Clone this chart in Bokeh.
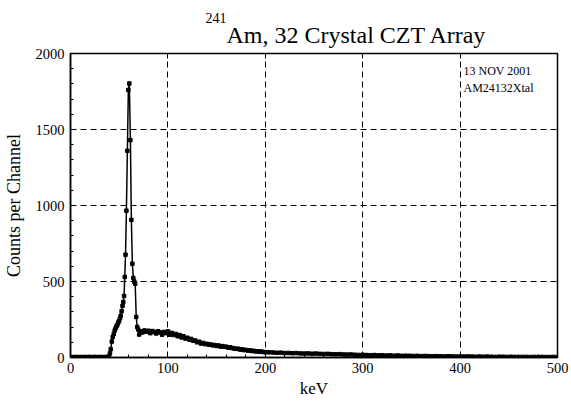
import numpy as np
from bokeh.plotting import figure
from bokeh.models import LinearAxis, Label, FixedTicker, Range1d, ColumnDataSource, Title
from bokeh.embed import file_html
from bokeh.resources import INLINE

FONT = "Liberation Serif"

# Below-threshold channels (2 keV steps)
low_kev = np.arange(0, 39, 2)
low_counts = [3, 2, 3, 3, 2, 3, 2, 3, 3, 2, 3, 2, 3, 3, 2, 3, 3, 2, 3, 4]

# 59.5 keV photopeak region (≈1 keV channels)
peak_kev = [39.6, 40.5, 41.3, 42.4, 43.4, 44.4, 45.4, 46.3, 47.2, 48.1,
            49.0, 49.9, 50.8, 51.6, 52.5, 53.4, 54.2, 55.0, 55.7, 56.5,
            57.4, 58.4, 59.4, 60.4, 61.5, 62.5, 63.5, 64.5, 65.5, 66.4,
            67.5, 68.5, 69.5, 70.5]
peak_counts = [6, 28, 55, 105, 135, 155, 178, 192, 205, 215,
               230, 240, 258, 275, 305, 340, 365, 405, 530, 676,
               966, 1360, 1760, 1803, 1430, 906, 617, 523, 500, 486,
               267, 201, 184, 151]

# Compton / tail continuum, 72-200 keV (2 keV steps)
tail_a_kev = np.arange(72, 201, 2)
tail_a_counts = [172, 165, 178, 170, 176, 160, 174, 168, 158, 172,
                 165, 150, 168, 160, 172, 150, 162, 148, 155, 140,
                 148, 132, 140, 125, 130, 118, 122, 110, 112, 100,
                 104, 92, 96, 88, 90, 84, 86, 80, 82, 76,
                 79, 72, 75, 70, 71, 65, 67, 62, 60, 57,
                 58, 52, 54, 49, 50, 46, 47, 43, 44, 40,
                 41, 38, 39, 36, 35]

# High-energy tail, 204-500 keV (4 keV steps)
tail_b_kev = np.arange(204, 501, 4)
tail_b_counts = [34, 33, 31, 32, 29, 30, 28, 29, 27, 26,
                 27, 25, 26, 24, 23, 24, 22, 21, 22, 20,
                 19, 20, 18, 17, 18, 16, 15, 16, 14, 15,
                 13, 14, 12, 13, 11, 12, 11, 10, 11, 9,
                 10, 9, 8, 9, 8, 7, 8, 7, 6, 7,
                 6, 7, 6, 5, 6, 5, 6, 5, 4, 5,
                 5, 4, 5, 4, 3, 4, 4, 3, 4, 3,
                 4, 3, 3, 4, 3]

x_ticks = [0, 100, 200, 300, 400, 500]
y_ticks = [0, 500, 1000, 1500, 2000]
x_grid = [100, 200, 300, 400]
y_grid = [500, 1000, 1500]

energy = np.concatenate([low_kev, peak_kev, tail_a_kev, tail_b_kev])
counts = np.concatenate([low_counts, peak_counts, tail_a_counts, tail_b_counts])
src = ColumnDataSource(data=dict(kev=energy, counts=counts))

p = figure(width=571, height=402, output_backend="svg", toolbar_location=None,
           x_range=Range1d(0, 500), y_range=Range1d(0, 2000),
           min_border_left=70, min_border_right=14,
           min_border_top=53, min_border_bottom=45,
           background_fill_color="white", border_fill_color="white")

p.outline_line_color = "black"
p.outline_line_width = 1.5

# dashed grid
p.xgrid.ticker = FixedTicker(ticks=x_grid)
p.ygrid.ticker = FixedTicker(ticks=y_grid)
p.grid.grid_line_color = "black"
p.grid.grid_line_alpha = 1.0
p.grid.grid_line_width = 1
p.grid.grid_line_dash = "6 4"

# spectrum: line plus square markers
p.line("kev", "counts", source=src, line_color="black", line_width=1.5)
p.scatter("kev", "counts", source=src, marker="square", size=3.5,
          fill_color="black", line_color="black")

# bottom and left axes
xa = p.xaxis[0]
xa.ticker = FixedTicker(ticks=x_ticks, minor_ticks=list(range(0, 501, 20)))
xa.axis_label = "keV"
ya = p.yaxis[0]
ya.ticker = FixedTicker(ticks=y_ticks, minor_ticks=list(range(0, 2001, 100)))
ya.axis_label = "Counts per Channel"
for ax in (xa, ya):
    ax.axis_label_text_font = FONT
    ax.axis_label_text_font_style = "normal"
    ax.axis_label_text_color = "black"
    ax.major_label_text_font = FONT
    ax.major_label_text_font_size = "14.5px"
    ax.major_label_text_color = "black"
    ax.axis_line_width = 1.5
    ax.axis_line_color = "black"
    ax.major_tick_in = 4
    ax.major_tick_out = 0
    ax.minor_tick_in = 3
    ax.minor_tick_out = 0
    ax.major_tick_line_color = "black"
    ax.minor_tick_line_color = "black"
xa.axis_label_text_font_size = "17px"
xa.axis_label_standoff = 3
xa.major_label_standoff = 5
ya.axis_label_text_font_size = "18px"
ya.axis_label_standoff = 9
ya.major_label_standoff = 6

# top axis: inward major ticks only
top = LinearAxis(ticker=FixedTicker(ticks=x_grid),
                 major_tick_in=5, major_tick_out=0, major_label_standoff=0,
                 minor_tick_line_color=None, axis_line_color=None,
                 major_tick_line_color="black",
                 major_label_text_alpha=0, major_label_text_font_size="1px")
p.add_layout(top, "above")

# title: main text, with the raised mass number stacked above it
p.add_layout(Title(text="Am, 32 Crystal CZT Array", text_font=FONT,
                   text_font_size="24px", text_font_style="normal",
                   text_color="black", align="left", offset=156, standoff=11),
             "above")
p.title.text = "241"
p.title.text_font = FONT
p.title.text_font_size = "14px"
p.title.text_font_style = "normal"
p.title.text_color = "black"
p.title.align = "left"
p.title.offset = 135
p.title.standoff = -16

# run annotation
p.add_layout(Label(x=403.5, y=1882, text="13 NOV 2001",
                   text_font=FONT, text_font_size="12px", text_color="black",
                   text_align="left", text_baseline="alphabetic"))
p.add_layout(Label(x=403.5, y=1776, text="AM24132Xtal",
                   text_font=FONT, text_font_size="12px", text_color="black",
                   text_align="left", text_baseline="alphabetic"))

open("out.html", "w").write(file_html(p, INLINE))
